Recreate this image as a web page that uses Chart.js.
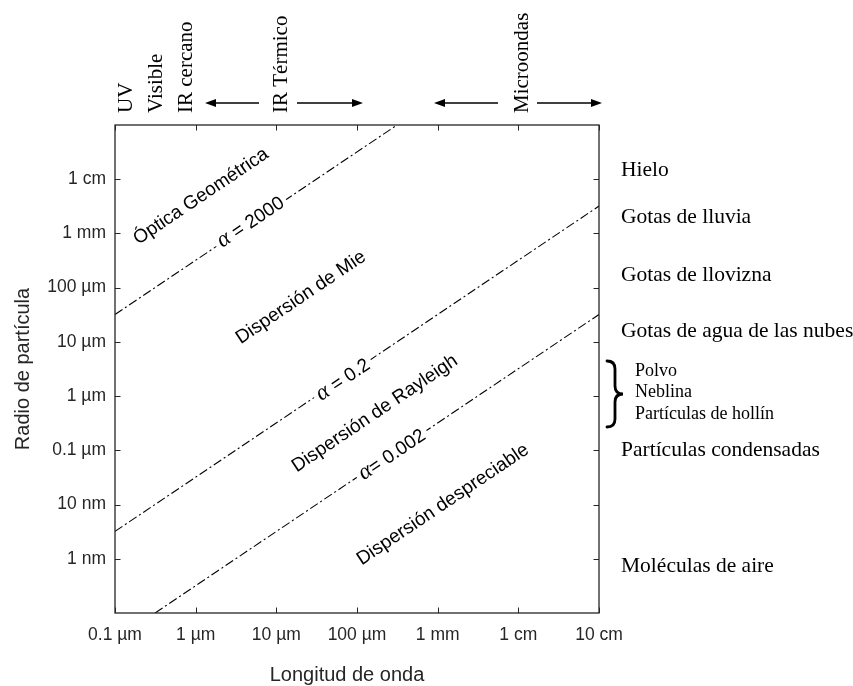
<!DOCTYPE html>
<html><head><meta charset="utf-8">
<script src="https://cdn.jsdelivr.net/npm/chart.js@4/dist/chart.umd.min.js"></script>
<style>html,body{margin:0;padding:0;background:#fff}#wrap{width:853px;height:686px}</style>
</head><body><div id="wrap"><canvas id="c" width="853" height="686"></canvas></div>
<script>
// ---- data ----
const xTickValues = [1e-7, 1e-6, 1e-5, 1e-4, 1e-3, 1e-2, 1e-1];
const xTickLabels = ['0.1 µm', '1 µm', '10 µm', '100 µm', '1 mm', '1 cm', '10 cm'];
const yTickValues = [1e-9, 1e-8, 1e-7, 1e-6, 1e-5, 1e-4, 1e-3, 1e-2];
const yTickLabels = ['1 nm', '10 nm', '0.1 µm', '1 µm', '10 µm', '100 µm', '1 mm', '1 cm'];
const xRange = [1e-7, 1e-1];
const yRange = [1e-10, 1e-1];
// boundary lines (alpha = 2*pi*r/lambda), endpoints
const alpha2000 = [{x: 1e-7, y: 3.2e-5}, {x: 3.14e-4, y: 1e-1}];
const alpha02 = [{x: 1e-7, y: 3.2e-9}, {x: 1e-1, y: 3.2e-3}];
const alpha0002 = [{x: 3.14e-7, y: 1e-10}, {x: 1e-1, y: 3.2e-5}];
const regionLabels = ['Óptica Geométrica', 'Dispersión de Mie', 'Dispersión de Rayleigh', 'Dispersión despreciable'];
const regionAnchors = [[1.13e-6, 5.1e-3], [1.96e-5, 7.0e-5], [1.62e-4, 5.07e-7], [1.13e-3, 1.06e-8]];
const alphaLabels = [' = 2000', ' = 0.2', '= 0.002'];
const alphaAnchors = [[4.71e-6, 1.69e-3], [6.59e-5, 2.1e-6], [2.67e-4, 8.7e-8]];
const particleLabels = ['Hielo', 'Gotas de lluvia', 'Gotas de llovizna', 'Gotas de agua de las nubes', 'Partículas condensadas', 'Moléculas de aire'];
const particleSubLabels = ['Polvo', 'Neblina', 'Partículas de hollín'];
const bandLabels = ['UV', 'Visible', 'IR cercano', 'IR Térmico', 'Microondas'];
const xTitle = 'Longitud de onda';
const yTitle = 'Radio de partícula';

// ---- layout (pixels) ----
const particleY = [176, 223, 281, 337, 456, 572];
const particleSubY = [376, 397, 419];
const bandX = [132, 162, 192, 287, 528];
const SANS = '"Liberation Sans", Arial, Helvetica, sans-serif';
const SERIF = '"Liberation Serif", "Times New Roman", serif';
const AX = '#262626';

function arrow(ctx, x1, x2, y) {
  const dir = Math.sign(x2 - x1);
  ctx.beginPath(); ctx.moveTo(x1, y); ctx.lineTo(x2 - dir * 8, y); ctx.stroke();
  ctx.beginPath(); ctx.moveTo(x2, y); ctx.lineTo(x2 - dir * 11, y - 4); ctx.lineTo(x2 - dir * 11, y + 4); ctx.closePath(); ctx.fill();
}

const deco = {
  id: 'deco',
  beforeDraw(chart) {
    const c = chart.ctx; c.save(); c.fillStyle = '#fff'; c.fillRect(0, 0, chart.width, chart.height); c.restore();
  },
  afterDatasetsDraw(chart) {
    const {ctx, chartArea: a, scales: {x, y}} = chart;
    ctx.save();
    const dx = x.getPixelForValue(1e-6) - x.getPixelForValue(1e-7);
    const dy = y.getPixelForValue(1e-2) - y.getPixelForValue(1e-1);
    const ang = Math.atan2(dy, dx);

    alphaLabels.forEach((t, i) => {
      const px = x.getPixelForValue(alphaAnchors[i][0]);
      const py = y.getPixelForValue(alphaAnchors[i][1]);
      ctx.save(); ctx.translate(px, py); ctx.rotate(-ang);
      ctx.font = 'italic 23px ' + SERIF; const wa = ctx.measureText('α').width;
      ctx.font = '19px ' + SANS; const wt = ctx.measureText(t).width;
      const w = wa + wt;
      ctx.fillStyle = '#fff'; ctx.fillRect(-w / 2 - 4, -11, w + 8, 22);
      ctx.fillStyle = '#000'; ctx.textBaseline = 'alphabetic'; ctx.textAlign = 'left';
      ctx.font = 'italic 23px ' + SERIF; ctx.fillText('α', -w / 2, 7);
      ctx.font = '19px ' + SANS; ctx.fillText(t, -w / 2 + wa, 7);
      ctx.restore();
    });
    regionLabels.forEach((t, i) => {
      const px = x.getPixelForValue(regionAnchors[i][0]);
      const py = y.getPixelForValue(regionAnchors[i][1]);
      ctx.save(); ctx.translate(px, py); ctx.rotate(-ang);
      ctx.font = '19px ' + SANS; ctx.fillStyle = '#000';
      ctx.textAlign = 'center'; ctx.textBaseline = 'alphabetic';
      ctx.fillText(t, 0, 7);
      ctx.restore();
    });

    ctx.strokeStyle = AX; ctx.lineWidth = 1.3;
    ctx.strokeRect(a.left, a.top, a.right - a.left, a.bottom - a.top);
    ctx.lineWidth = 1;
    const tl = 5.5;
    xTickValues.forEach(v => {
      const p = Math.round(x.getPixelForValue(v)) + 0.5;
      ctx.beginPath(); ctx.moveTo(p, a.bottom); ctx.lineTo(p, a.bottom - tl);
      ctx.moveTo(p, a.top); ctx.lineTo(p, a.top + tl); ctx.stroke();
    });
    yTickValues.forEach(v => {
      const p = Math.round(y.getPixelForValue(v)) + 0.5;
      ctx.beginPath(); ctx.moveTo(a.left, p); ctx.lineTo(a.left + tl, p);
      ctx.moveTo(a.right, p); ctx.lineTo(a.right - tl, p); ctx.stroke();
    });

    ctx.fillStyle = AX; ctx.font = '20px ' + SANS; ctx.textAlign = 'center'; ctx.textBaseline = 'middle';
    ctx.fillText(xTitle, 347, 675);
    ctx.save(); ctx.translate(23, (a.top + a.bottom) / 2); ctx.rotate(-Math.PI / 2);
    ctx.fillText(yTitle, 0, 0); ctx.restore();

    ctx.fillStyle = '#000'; ctx.textAlign = 'left'; ctx.textBaseline = 'alphabetic';
    ctx.font = '21.5px ' + SERIF;
    particleLabels.forEach((t, i) => ctx.fillText(t, 621, particleY[i]));
    ctx.font = '18px ' + SERIF;
    particleSubLabels.forEach((t, i) => ctx.fillText(t, 635, particleSubY[i]));
    ctx.strokeStyle = '#000'; ctx.lineWidth = 2.8; ctx.lineCap = 'round';
    ctx.beginPath();
    ctx.moveTo(607, 361);
    ctx.quadraticCurveTo(615, 361, 615, 369);
    ctx.lineTo(615, 386);
    ctx.quadraticCurveTo(615, 394, 623, 394);
    ctx.quadraticCurveTo(615, 394, 615, 402);
    ctx.lineTo(615, 419);
    ctx.quadraticCurveTo(615, 427, 607, 427);
    ctx.stroke();

    ctx.font = '21px ' + SERIF; ctx.fillStyle = '#000';
    bandLabels.forEach((t, i) => {
      ctx.save(); ctx.translate(bandX[i], 113); ctx.rotate(-Math.PI / 2);
      ctx.textAlign = 'left'; ctx.textBaseline = 'alphabetic'; ctx.fillText(t, 0, 0);
      ctx.restore();
    });
    ctx.lineWidth = 1.3; ctx.lineCap = 'butt'; ctx.strokeStyle = '#000'; ctx.fillStyle = '#000';
    arrow(ctx, 259, 205, 103);
    arrow(ctx, 297, 363, 103);
    arrow(ctx, 498, 434, 103);
    arrow(ctx, 537, 602, 103);
    ctx.restore();
  }
};

const lineStyle = {showLine: true, borderColor: '#000', borderWidth: 1.1, borderDash: [9, 3, 2, 3], pointRadius: 0, fill: false};

new Chart(document.getElementById('c'), {
  type: 'scatter',
  data: {datasets: [
    Object.assign({label: 'α = 2000', data: alpha2000}, lineStyle),
    Object.assign({label: 'α = 0.2', data: alpha02}, lineStyle),
    Object.assign({label: 'α = 0.002', data: alpha0002}, lineStyle)
  ]},
  options: {
    responsive: false, animation: false, devicePixelRatio: 1,
    layout: {padding: {left: 0, right: 254, top: 125, bottom: 0}},
    plugins: {legend: {display: false}, tooltip: {enabled: false}},
    scales: {
      x: {
        type: 'logarithmic', min: xRange[0], max: xRange[1], position: 'bottom',
        grid: {display: false, drawTicks: false}, border: {display: false},
        afterBuildTicks: s => { s.ticks = xTickValues.map(v => ({value: v})); },
        ticks: {callback: (v, i) => xTickLabels[i], font: {family: SANS, size: 17.5}, color: AX, padding: 12, maxRotation: 0, autoSkip: false},
        afterFit: s => { s.height = 73; }
      },
      y: {
        type: 'logarithmic', min: yRange[0], max: yRange[1], position: 'left',
        grid: {display: false, drawTicks: false}, border: {display: false},
        afterBuildTicks: s => { s.ticks = yTickValues.map(v => ({value: v})); },
        ticks: {callback: (v, i) => yTickLabels[i], font: {family: SANS, size: 17.5}, color: AX, padding: 9, autoSkip: false},
        afterFit: s => { s.width = 115; }
      }
    }
  },
  plugins: [deco]
});
</script></body></html>
